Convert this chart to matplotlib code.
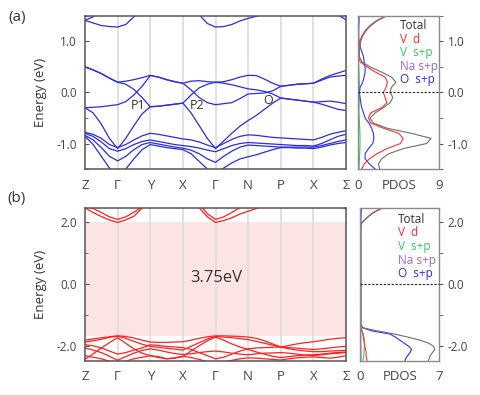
import numpy as np
import matplotlib
matplotlib.use('Agg')
import matplotlib.pyplot as plt
from matplotlib.ticker import FixedLocator, FixedFormatter

plt.rcParams['font.family'] = ['Open Sans', 'DejaVu Sans']
plt.rcParams['axes.unicode_minus'] = False

nan = np.nan

# ---------------- k-path ----------------
kpath_labels = ['Z', 'Γ', 'Y', 'X', 'Γ', 'N', 'P', 'X', 'Σ']
kpath_pos = [0, 1, 2, 3, 4, 5, 6, 7, 8]
k_samples = [0, 0.25, 0.5, 0.75, 1, 1.25, 1.5, 1.75, 2, 2.25, 2.5, 2.75, 3,
             3.25, 3.5, 3.75, 4, 4.25, 4.5, 4.75, 5, 5.25, 5.5, 5.75, 6,
             6.25, 6.5, 6.75, 7, 7.25, 7.5, 7.75, 8]

# ---------------- panel (a) bands (eV) ----------------
a_up1 = [1.41, 1.48, 1.62, nan, nan, nan, nan, nan, nan, nan, nan, nan, nan,
         nan, nan, nan, nan, nan, nan, nan, nan, nan, nan, nan, nan,
         nan, nan, nan, nan, nan, nan, nan, nan]
a_up2 = [1.41, 1.36, 1.31, 1.29, 1.28, 1.33, 1.48, 1.65, nan, nan, nan, nan, nan,
         1.65, 1.52, 1.35, 1.28, 1.29, 1.33, 1.40, 1.45, 1.49, 1.55, 1.65, nan,
         nan, nan, nan, nan, nan, 1.62, 1.52, 1.42]
a_b1 = [0.50, 0.44, 0.37, 0.28, 0.20, 0.22, 0.25, 0.29, 0.335, 0.30, 0.25, 0.21, 0.18,
        0.22, 0.23, 0.21, 0.20, 0.21, 0.25, 0.30, 0.335, 0.33, 0.26, 0.18, 0.12,
        0.14, 0.16, 0.17, 0.18, 0.26, 0.33, 0.38, 0.43]
a_b2 = [0.50, 0.44, 0.37, 0.28, 0.20, 0.16, 0.06, -0.10, -0.28, -0.27, -0.25, -0.23, -0.21,
        -0.05, 0.09, 0.16, 0.20, 0.18, 0.15, 0.11, 0.07, 0.05, 0.02, -0.03, -0.11,
        -0.13, -0.15, -0.17, -0.19, -0.18, -0.17, -0.19, -0.22]
a_b3 = [-0.30, -0.29, -0.28, -0.26, -0.24, -0.18, -0.05, 0.12, 0.33, 0.30, 0.25, 0.21, 0.18,
        0.05, -0.10, -0.20, -0.24, -0.22, -0.20, -0.12, -0.03, -0.02, -0.01, 0.03, 0.12,
        0.14, 0.16, 0.17, 0.18, 0.24, 0.30, 0.32, 0.335]
a_b4 = [-0.30, -0.40, -0.62, -0.90, -1.10, -0.90, -0.65, -0.42, -0.28, -0.27, -0.25, -0.23, -0.21,
        -0.40, -0.65, -0.90, -1.10, -0.95, -0.80, -0.66, -0.55, -0.45, -0.33, -0.21, -0.11,
        -0.13, -0.15, -0.17, -0.19, -0.23, -0.28, -0.33, -0.355]
a_l1 = [-0.78, -0.82, -0.90, -1.02, -1.08, -1.02, -0.93, -0.85, -0.80, -0.82, -0.85, -0.88, -0.91,
        -0.93, -0.97, -1.03, -1.08, -1.00, -0.92, -0.86, -0.83, -0.84, -0.86, -0.88, -0.89,
        -0.90, -0.91, -0.92, -0.93, -0.88, -0.82, -0.78, -0.75]
a_l2 = [-0.80, -0.86, -0.97, -1.10, -1.15, -1.10, -1.02, -0.96, -0.93, -0.96, -0.99, -1.02, -1.04,
        -1.06, -1.09, -1.13, -1.16, -1.10, -1.04, -1.00, -0.98, -0.99, -1.00, -1.01, -1.02,
        -1.03, -1.04, -1.04, -1.05, -1.00, -0.93, -0.86, -0.82]
a_l3 = [-0.84, -0.93, -1.08, -1.25, -1.34, -1.25, -1.12, -1.02, -0.98, -1.01, -1.04, -1.07, -1.09,
        -1.13, -1.20, -1.30, -1.37, -1.25, -1.15, -1.07, -1.03, -1.04, -1.05, -1.06, -1.07,
        -1.07, -1.07, -1.07, -1.07, -1.04, -1.00, -0.96, -0.93]
a_l4 = [-0.86, -1.02, -1.25, -1.48, -1.62, -1.50, -1.30, -1.12, -1.02, -1.05, -1.08, -1.10, -1.12,
        -1.20, -1.35, -1.50, -1.60, -1.48, -1.38, -1.30, -1.26, -1.22, -1.17, -1.12, -1.08,
        -1.08, -1.09, -1.09, -1.10, -1.07, -1.03, -1.00, -0.98]

# ---------------- panel (b) bands (eV) ----------------
b_c1 = [2.47, 2.32, 2.19, 2.08, 2.00, 2.08, 2.20, 2.46, 2.70, nan, nan, nan, nan,
        2.70, 2.47, 2.18, 2.00, 2.06, 2.15, 2.27, 2.36, 2.45, 2.55, nan, nan,
        nan, nan, nan, nan, nan, 2.70, 2.52, 2.44]
b_c2 = [2.52, 2.45, 2.32, 2.18, 2.10, 2.18, 2.33, 2.50, nan, nan, nan, nan, nan,
        nan, 2.60, 2.28, 2.10, 2.18, 2.32, 2.48, 2.60, nan, nan, nan, nan,
        nan, nan, nan, nan, nan, nan, nan, nan]
b_v1 = [-1.80, -1.76, -1.72, -1.69, -1.66, -1.68, -1.73, -1.80, -1.86, -1.87, -1.87, -1.86, -1.85,
        -1.80, -1.74, -1.69, -1.66, -1.66, -1.67, -1.68, -1.70, -1.74, -1.82, -1.92, -2.02,
        -2.08, -2.12, -2.15, -2.17, -2.17, -2.15, -2.14, -2.13]
b_v2 = [-1.86, -1.82, -1.77, -1.71, -1.67, -1.74, -1.84, -1.93, -2.00, -2.03, -2.06, -2.09, -2.12,
        -2.00, -1.88, -1.76, -1.68, -1.70, -1.72, -1.75, -1.78, -1.84, -1.90, -1.96, -2.02,
        -1.97, -1.92, -1.88, -1.85, -1.81, -1.77, -1.74, -1.72]
b_v3 = [-2.05, -2.12, -2.20, -2.32, -2.45, -2.33, -2.22, -2.13, -2.08, -2.12, -2.18, -2.23, -2.26,
        -2.24, -2.20, -2.17, -2.15, -2.18, -2.22, -2.25, -2.27, -2.24, -2.22, -2.21, -2.20,
        -2.22, -2.25, -2.28, -2.30, -2.27, -2.24, -2.22, -2.20]
b_v4 = [-2.42, -2.24, -2.05, -1.88, -1.72, -1.90, -2.08, -2.22, -2.30, -2.36, -2.40, -2.38, -2.33,
        -2.15, -1.98, -1.82, -1.70, -1.80, -1.92, -2.02, -2.10, -2.18, -2.25, -2.32, -2.36,
        -2.33, -2.30, -2.28, -2.27, -2.25, -2.22, -2.20, -2.18]
b_v5 = [-2.30, -2.35, -2.40, -2.48, -2.55, -2.48, -2.40, -2.35, -2.30, -2.33, -2.40, -2.37, -2.32,
        -2.36, -2.42, -2.50, -2.55, -2.50, -2.45, -2.40, -2.37, -2.38, -2.40, -2.42, -2.44,
        -2.40, -2.37, -2.35, -2.34, -2.36, -2.38, -2.35, -2.30]
b_v6 = [-1.95, -1.98, -2.05, -2.15, -2.25, -2.20, -2.12, -2.05, -1.95, -1.97, -2.00, -2.02, -2.04,
        -2.10, -2.20, -2.30, -2.40, -2.35, -2.25, -2.15, -2.08, -2.05, -2.04, -2.03, -2.02,
        -2.04, -2.06, -2.08, -2.10, -2.08, -2.05, -2.02, -2.00]

gap_vbm = -1.66
gap_cbm = 2.00
gap_label = '3.75eV'

# ---------------- PDOS (a) ----------------
dos_a_E = [-1.5, -1.4, -1.3, -1.2, -1.1, -1.0, -0.9, -0.8, -0.7, -0.6, -0.5, -0.4, -0.3, -0.2,
           -0.1, 0.0, 0.1, 0.2, 0.3, 0.4, 0.5, 0.6, 0.7, 0.8, 0.9, 1.0, 1.1, 1.2, 1.3, 1.4, 1.5]
dos_a_total = [2.4, 2.26, 2.6, 3.4, 5.0, 7.6, 8.1, 5.9, 3.2, 1.7, 1.33, 1.9, 2.8, 3.56, 3.85, 3.56,
               3.7, 4.2, 3.7, 2.6, 1.33, 0.41, 0.15, 0.15, 0.22, 0.3, 0.5, 0.85, 1.35, 2.1, 3.2]
dos_a_vd = [0.41, 0.67, 1.26, 2.1, 3.2, 4.7, 5.0, 4.5, 2.8, 1.4, 1.15, 1.4, 2.6, 3.2, 3.0, 2.8,
            3.1, 3.26, 3.0, 1.9, 1.0, 0.22, 0.07, 0.07, 0.15, 0.2, 0.4, 0.75, 1.25, 2.0, 3.1]
dos_a_vsp = [0.1, 0.12, 0.15, 0.18, 0.2, 0.22, 0.22, 0.2, 0.18, 0.15, 0.12, 0.1, 0.1, 0.12, 0.14,
             0.15, 0.15, 0.14, 0.12, 0.1, 0.08, 0.05, 0.04, 0.03, 0.03, 0.03, 0.03, 0.04, 0.05,
             0.06, 0.07]
dos_a_na = [0.06, 0.05, 0.05, 0.04, 0.04, 0.04, 0.03, 0.03, 0.03, 0.02, 0.02, 0.02, 0.02, 0.02,
            0.02, 0.02, 0.02, 0.02, 0.02, 0.02, 0.02, 0.02, 0.02, 0.02, 0.02, 0.02, 0.02, 0.03,
            0.03, 0.03, 0.03]
dos_a_o = [1.9, 1.26, 0.78, 0.78, 1.15, 1.63, 1.76, 1.7, 1.5, 1.2, 0.78, 0.6, 0.41, 0.3, 0.22,
           0.15, 0.22, 0.52, 0.67, 0.78, 0.78, 0.67, 0.6, 0.41, 0.22, 0.11, 0.07, 0.07, 0.08,
           0.1, 0.12]

# ---------------- PDOS (b) ----------------
dos_b_E = [-2.5, -2.4, -2.3, -2.2, -2.1, -2.0, -1.9, -1.8, -1.7, -1.6, -1.5, -1.4, -1.3,
           1.9, 2.0, 2.1, 2.2, 2.3, 2.4, 2.5]
dos_b_total = [6.0, 6.1, 6.2, 6.4, 6.6, 6.5, 6.1, 5.3, 4.2, 3.0, 1.5, 0.2, 0.03,
               0.03, 0.15, 0.45, 0.75, 1.1, 1.6, 2.2]
dos_b_vd = [0.6, 0.55, 0.5, 0.5, 0.45, 0.4, 0.35, 0.3, 0.25, 0.2, 0.1, 0.03, 0.01,
            0.02, 0.13, 0.42, 0.7, 1.05, 1.55, 2.1]
dos_b_vsp = [0.2, 0.25, 0.3, 0.3, 0.32, 0.35, 0.35, 0.35, 0.3, 0.25, 0.15, 0.05, 0.01,
             0.0, 0.0, 0.01, 0.01, 0.02, 0.02, 0.03]
dos_b_na = [0.05, 0.05, 0.05, 0.04, 0.04, 0.04, 0.03, 0.03, 0.03, 0.02, 0.02, 0.01, 0.01,
            0.01, 0.01, 0.01, 0.01, 0.01, 0.01, 0.01]
dos_b_o = [3.95, 4.0, 4.2, 4.4, 4.55, 4.3, 3.9, 3.5, 3.1, 2.6, 1.0, 0.2, 0.03,
           0.02, 0.02, 0.03, 0.04, 0.05, 0.06, 0.07]

legend_labels = ['Total', 'V  d', 'V  s+p', 'Na s+p', 'O  s+p']
legend_colors = ['#333333', '#ff2a2a', '#2ecc60', '#9a66d6', '#2a2aff']
curve_colors = {'total': '#6e6e6e', 'vd': '#ff3030', 'vsp': '#30d060',
                'na': '#a070e0', 'o': '#3030ff'}

# ---------------- figure ----------------
fig = plt.figure(figsize=(4.8, 3.95), dpi=100)

band_color_a = '#2b2be6'
band_color_b = '#ff2020'
tick_col = '#444444'

def style_band_axes(ax, ylim, major, minor, ticklabels):
    ax.set_xlim(0, 8)
    ax.set_ylim(*ylim)
    for x in kpath_pos[1:-1]:
        ax.axvline(x, color='#dcdcdc', lw=1.2, zorder=0.6)
    ax.set_xticks(kpath_pos)
    ax.set_xticklabels(kpath_labels, fontsize=9.5, color=tick_col)
    ax.tick_params(axis='x', length=0, pad=7)
    ax.yaxis.set_major_locator(FixedLocator(major))
    ax.yaxis.set_major_formatter(FixedFormatter(ticklabels))
    ax.yaxis.set_minor_locator(FixedLocator(minor))
    ax.tick_params(axis='y', direction='in', length=3, labelsize=8.5, labelcolor=tick_col,
                   color='#555555', pad=6)
    ax.tick_params(axis='y', which='minor', direction='in', length=2, color='#555555')
    for s in ax.spines.values():
        s.set_color('#555555')
        s.set_linewidth(1.1)
    ax.set_ylabel('Energy (eV)', fontsize=9.5, color='#333333')
    ax.yaxis.set_label_coords(-0.145, 0.5)

def style_dos_axes(ax, ylim, xmax, major, minor, ticklabels):
    ax.set_xlim(0, xmax)
    ax.set_ylim(*ylim)
    ax.set_xticks([0, xmax / 2, xmax])
    ax.set_xticklabels(['0', 'PDOS', str(xmax)], fontsize=9.5, color=tick_col)
    ax.tick_params(axis='x', length=0, pad=7)
    ax.yaxis.tick_right()
    ax.yaxis.set_major_locator(FixedLocator(major))
    ax.yaxis.set_major_formatter(FixedFormatter(ticklabels))
    ax.yaxis.set_minor_locator(FixedLocator(minor))
    ax.tick_params(axis='y', which='both', direction='out', length=3, labelsize=8.5,
                   labelcolor=tick_col, color='#555555', pad=3)
    for s in ax.spines.values():
        s.set_color('#8a8a8a')
        s.set_linewidth(1.0)
    ax.axhline(0, color='#222222', lw=0.8, ls=(0, (2, 1.5)), zorder=5, clip_on=False)

def draw_dos(ax, E, tot, vd, vsp, na, o):
    ax.plot(na, E, color=curve_colors['na'], lw=0.8)
    ax.plot(vsp, E, color=curve_colors['vsp'], lw=0.8)
    ax.plot(o, E, color=curve_colors['o'], lw=0.8)
    ax.plot(vd, E, color=curve_colors['vd'], lw=0.8)
    ax.plot(tot, E, color=curve_colors['total'], lw=0.8)

def draw_legend(ax, x, ys):
    for lab, col, y in zip(legend_labels, legend_colors, ys):
        ax.text(x, y, lab, color=col, fontsize=8.5, transform=ax.transAxes,
                ha='left', va='center')

# ---- panel (a) ----
ax1 = fig.add_axes([0.177, 0.572, 0.544, 0.388])
for band in [a_up1, a_up2, a_b1, a_b2, a_b3, a_b4, a_l1, a_l2, a_l3, a_l4]:
    ax1.plot(k_samples, band, color=band_color_a, lw=0.9, zorder=2)
style_band_axes(ax1, (-1.5, 1.5), [-1.0, 0.0, 1.0], [-1.5, -0.5, 0.5, 1.5],
                ['-1.0', '0.0', '1.0'])
ax1.text(1.63, -0.26, 'P1', fontsize=9, color='#333333', ha='center', va='center', zorder=3)
ax1.text(3.43, -0.26, 'P2', fontsize=9, color='#333333', ha='center', va='center', zorder=3)
ax1.text(5.61, -0.16, 'O', fontsize=9, color='#333333', ha='center', va='center', zorder=3)

ax2 = fig.add_axes([0.746, 0.572, 0.169, 0.388])
draw_dos(ax2, dos_a_E, dos_a_total, dos_a_vd, dos_a_vsp, dos_a_na, dos_a_o)
style_dos_axes(ax2, (-1.5, 1.5), 9, [-1.0, 0.0, 1.0], [-1.5, -0.5, 0.5, 1.5],
               ['-1.0', '0.0', '1.0'])
draw_legend(ax2, 0.52, [0.935, 0.848, 0.759, 0.672, 0.587])

# ---- panel (b) ----
ax3 = fig.add_axes([0.177, 0.087, 0.544, 0.386])
ax3.axhspan(gap_vbm, gap_cbm, color='#fde4e4', zorder=0.5, lw=0)
for band in [b_c1, b_c2, b_v1, b_v2, b_v3, b_v4, b_v5, b_v6]:
    ax3.plot(k_samples, band, color=band_color_b, lw=0.9, zorder=2)
style_band_axes(ax3, (-2.46, 2.46), [-2.0, 0.0, 2.0], [-1.0, 1.0],
                ['-2.0', '0.0', '2.0'])
ax3.text(4.03, 0.2, gap_label, fontsize=12, color='#333333', ha='center', va='center')

ax4 = fig.add_axes([0.751, 0.087, 0.164, 0.386])
draw_dos(ax4, dos_b_E, dos_b_total, dos_b_vd, dos_b_vsp, dos_b_na, dos_b_o)
style_dos_axes(ax4, (-2.46, 2.46), 7, [-2.0, 0.0, 2.0], [-1.0, 1.0],
               ['-2.0', '0.0', '2.0'])
draw_legend(ax4, 0.48, [0.928, 0.838, 0.748, 0.655, 0.57])

fig.text(0.035, 0.955, '(a)', fontsize=11, color='#333333', va='center', ha='center')
fig.text(0.035, 0.497, '(b)', fontsize=11, color='#333333', va='center', ha='center')

fig.savefig('out.png', dpi=100)
